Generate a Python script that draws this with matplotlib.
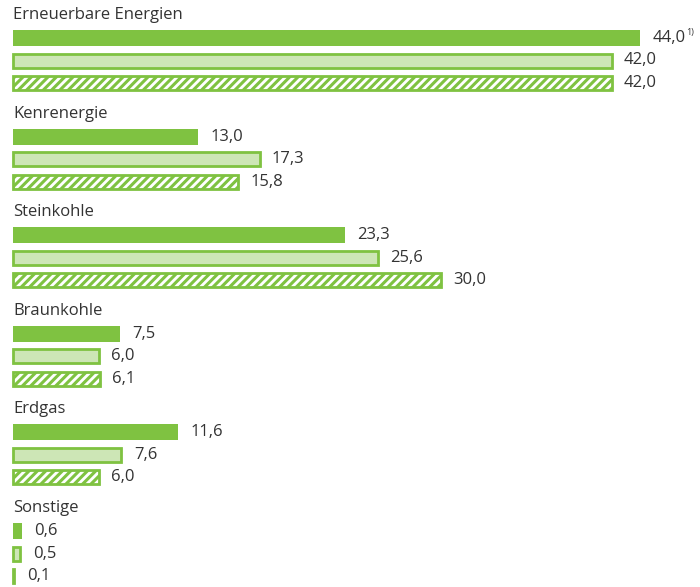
import matplotlib
matplotlib.use("Agg")
from matplotlib import pyplot as plt

categories = ['Erneuerbare Energien', 'Kenrenergie', 'Steinkohle',
              'Braunkohle', 'Erdgas', 'Sonstige']
series_a = [44.0, 13.0, 23.3, 7.5, 11.6, 0.6]
series_b = [42.0, 17.3, 25.6, 6.0, 7.6, 0.5]
series_c = [42.0, 15.8, 30.0, 6.1, 6.0, 0.1]
footnote = '1)'

GREEN = '#7fc241'
LIGHT = '#cde6b6'
TEXT = '#333333'

plt.rcParams['font.family'] = ['Open Sans', 'DejaVu Sans']
plt.rcParams['hatch.linewidth'] = 2.2

fig = plt.figure(figsize=(7, 5.87), dpi=100)
ax = fig.add_axes([0, 0, 1, 1])
px_per_unit = 14.25
ax.set_xlim(-13 / px_per_unit, (700 - 13) / px_per_unit)
ax.set_ylim(587, 0)
ax.axis('off')

group_step = 98.6
bar_h = 14


def label(x, y, value):
    txt = ('%.1f' % value).replace('.', ',')
    return ax.annotate(txt, (x, y), xytext=(9, 0), textcoords='offset points',
                       va='center', ha='left', fontsize=12, color=TEXT)


for i, cat in enumerate(categories):
    top = 15 + group_step * i
    ax.text(0, top, cat, fontsize=12, color=TEXT, va='center', ha='left')
    ya = top + 23
    yb = top + 45.5
    yc = top + 68
    ax.barh(ya, series_a[i], height=bar_h + 2, left=0, color=GREEN,
            linewidth=0)
    ax.barh(yb, series_b[i], height=bar_h, left=0, facecolor=LIGHT,
            edgecolor=GREEN, linewidth=2)
    ax.barh(yc, series_c[i], height=bar_h, left=0, facecolor='white',
            edgecolor=GREEN, linewidth=2, hatch='////')
    label(series_a[i], ya, series_a[i])
    label(series_b[i], yb, series_b[i])
    label(series_c[i], yc, series_c[i])

# footnote marker right after the first value label
ax.annotate(footnote, (series_a[0], 15 + 23), xytext=(33.5, 4),
            textcoords='offset points', va='center', ha='left',
            fontsize=6.5, color=TEXT)

fig.savefig('out.png', dpi=100)
